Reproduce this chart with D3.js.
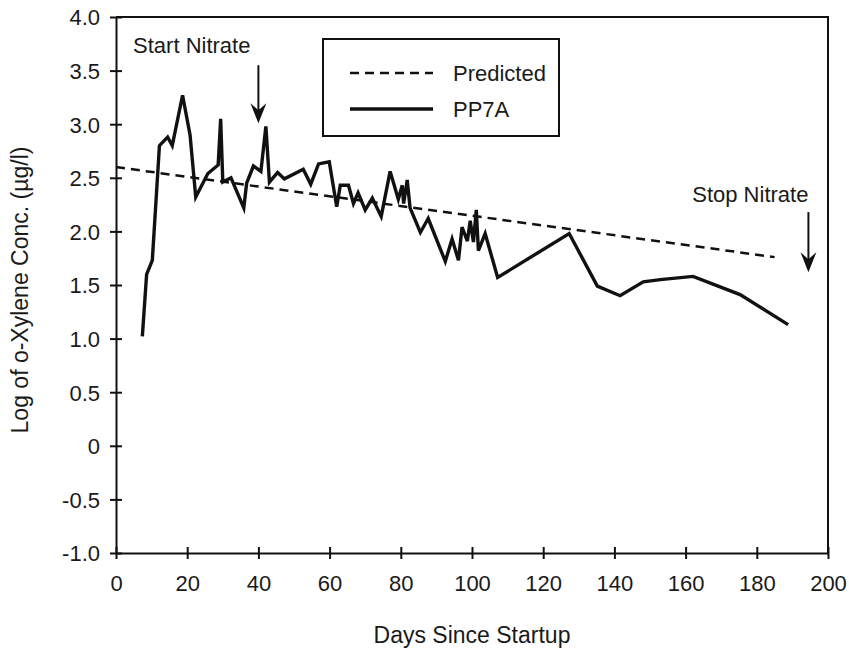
<!DOCTYPE html>
<html>
<head>
<meta charset="utf-8">
<script src="https://cdn.jsdelivr.net/npm/d3@7"></script>
<style>
    body { margin: 0; background: #fff; }
    svg { font-family: "Liberation Sans", Arial, Helvetica, sans-serif; }
    .axis path, .axis line { stroke: #111; stroke-width: 2; }
    .axis text { font-size: 22px; fill: #1a1a1a; }
    .line { fill: none; stroke: #111; }
</style>
</head>
<body>
<svg width="849" height="651"></svg>
<script>
//Données
var joursPP7A = [7.4, 8.6, 10.2, 12.2, 14.5, 15.8, 18.7, 20.8, 22.4, 25.8, 28.7, 29.4, 30.0, 32.3, 35.9, 36.7, 38.6, 40.7, 42.1, 43.1, 45.4, 47.3, 52.6, 54.7, 56.9, 59.9, 62.0, 63.0, 65.3, 66.7, 68.0, 70.0, 72.0, 74.5, 77.0, 79.3, 80.4, 80.8, 81.8, 82.6, 85.5, 87.7, 92.5, 94.4, 96.2, 97.2, 98.7, 99.5, 100.4, 101.2, 101.8, 103.7, 107.2, 127.3, 135.2, 141.6, 148.1, 152.9, 162.1, 175.3, 188.8];
var valeursPP7A = [1.02, 1.6, 1.73, 2.8, 2.88, 2.8, 3.27, 2.9, 2.32, 2.54, 2.62, 3.05, 2.46, 2.5, 2.22, 2.45, 2.61, 2.56, 2.98, 2.46, 2.55, 2.49, 2.58, 2.44, 2.63, 2.65, 2.23, 2.43, 2.43, 2.26, 2.36, 2.2, 2.31, 2.14, 2.56, 2.3, 2.43, 2.26, 2.48, 2.22, 1.99, 2.12, 1.72, 1.93, 1.73, 2.04, 1.91, 2.1, 1.9, 2.2, 1.82, 1.98, 1.57, 1.98, 1.49, 1.4, 1.53, 1.55, 1.58, 1.41, 1.13];
var joursPredit = [0, 185];
var valeursPredit = [2.6, 1.76];
var ticksX = [0, 20, 40, 60, 80, 100, 120, 140, 160, 180, 200];
var ticksY = [-1.0, -0.5, 0, 0.5, 1.0, 1.5, 2.0, 2.5, 3.0, 3.5, 4.0];
var labelsY = ["-1.0", "-0.5", "0", "0.5", "1.0", "1.5", "2.0", "2.5", "3.0", "3.5", "4.0"];
var annotations = [
    {texte: "Start Nitrate", jour: 40, depuis: 3.55, vers: 3.01},
    {texte: "Stop Nitrate", jour: 194.5, depuis: 2.18, vers: 1.62}
];

(function () {
    var svg = d3.select("svg");
    var margin = {top: 17, right: 21, bottom: 98, left: 116},
            width = +svg.attr("width") - margin.left - margin.right,
            height = +svg.attr("height") - margin.top - margin.bottom;
    var zoneDessin = svg.append("g")
            .attr("transform", "translate(" + margin.left + "," + margin.top + ")");

    //Echelles
    var x = d3.scaleLinear().domain([0, 200]).range([0, width]);
    var y = d3.scaleLinear().domain([-1, 4]).range([height, 0]);

    //Cadre haut et droit
    zoneDessin.append("path")
            .attr("d", "M0,0H" + width + "V" + height)
            .attr("fill", "none").attr("stroke", "#111").attr("stroke-width", 2);

    //Axes, graduations de part et d'autre de l'axe
    var axeX = zoneDessin.append("g")
            .attr("class", "axis")
            .attr("transform", "translate(0," + height + ")")
            .call(d3.axisBottom(x).tickValues(ticksX).tickSize(6).tickPadding(16).tickSizeOuter(0));
    axeX.selectAll(".tick line").attr("y1", -6).attr("y2", 6);

    var axeY = zoneDessin.append("g")
            .attr("class", "axis")
            .call(d3.axisLeft(y).tickValues(ticksY).tickSize(6).tickPadding(10).tickSizeOuter(0)
                    .tickFormat((d, i) => labelsY[i]));
    axeY.selectAll(".tick line").attr("x1", -6).attr("x2", 6);
    axeY.selectAll("text").attr("dy", "0.36em");

    //Titres des axes
    svg.append("text")
            .attr("x", margin.left + x(100))
            .attr("y", 643)
            .attr("text-anchor", "middle")
            .style("font-size", "23px").style("fill", "#1a1a1a")
            .text("Days Since Startup");
    svg.append("text")
            .attr("transform", "translate(28,290) rotate(-90)")
            .attr("text-anchor", "middle")
            .style("font-size", "23px").style("fill", "#1a1a1a")
            .text("Log of o-Xylene Conc. (µg/l)");

    //Courbes
    var ligne = d3.line().x(d => x(d[0])).y(d => y(d[1]));
    zoneDessin.append("path")
            .datum(joursPredit.map((j, i) => [j, valeursPredit[i]]))
            .attr("class", "line")
            .attr("stroke-width", 2.5)
            .attr("stroke-dasharray", "9,6")
            .attr("d", ligne);
    zoneDessin.append("path")
            .datum(joursPP7A.map((j, i) => [j, valeursPP7A[i]]))
            .attr("class", "line")
            .attr("stroke-width", 3.4)
            .attr("stroke-linejoin", "miter")
            .attr("d", ligne);

    //Flèches et textes d'annotation
    annotations.forEach(function (a, i) {
        var ax = x(a.jour), y0 = y(a.depuis), y1 = y(a.vers);
        zoneDessin.append("line")
                .attr("x1", ax).attr("x2", ax)
                .attr("y1", y0).attr("y2", y1 - 12)
                .attr("stroke", "#111").attr("stroke-width", 2);
        zoneDessin.append("path")
                .attr("d", "M" + (ax - 8) + "," + (y1 - 20) + "L" + ax + "," + y1 + "L" + (ax + 8) + "," + (y1 - 20) + "L" + ax + "," + (y1 - 13) + "Z")
                .attr("fill", "#111");
        zoneDessin.append("text")
                .attr("x", i === 0 ? x(4.8) : ax)
                .attr("y", i === 0 ? y(3.66) : y0 - 10)
                .attr("text-anchor", i === 0 ? "start" : "end")
                .style("font-size", "22px").style("fill", "#1a1a1a")
                .text(a.texte);
    });

    //Légende
    var legende = svg.append("g");
    legende.append("rect")
            .attr("x", 323).attr("y", 39).attr("width", 236).attr("height", 97)
            .attr("fill", "none").attr("stroke", "#111").attr("stroke-width", 2);
    [["Predicted", "9,6", 73], ["PP7A", null, 109]].forEach(function (l) {
        legende.append("line")
                .attr("x1", 350).attr("x2", 433).attr("y1", l[2]).attr("y2", l[2])
                .attr("stroke", "#111").attr("stroke-width", l[1] ? 2.5 : 3.4)
                .attr("stroke-dasharray", l[1]);
        legende.append("text")
                .attr("x", 453).attr("y", l[2] + 8)
                .style("font-size", "22px").style("fill", "#1a1a1a")
                .text(l[0]);
    });
})();
</script>
</body>
</html>
